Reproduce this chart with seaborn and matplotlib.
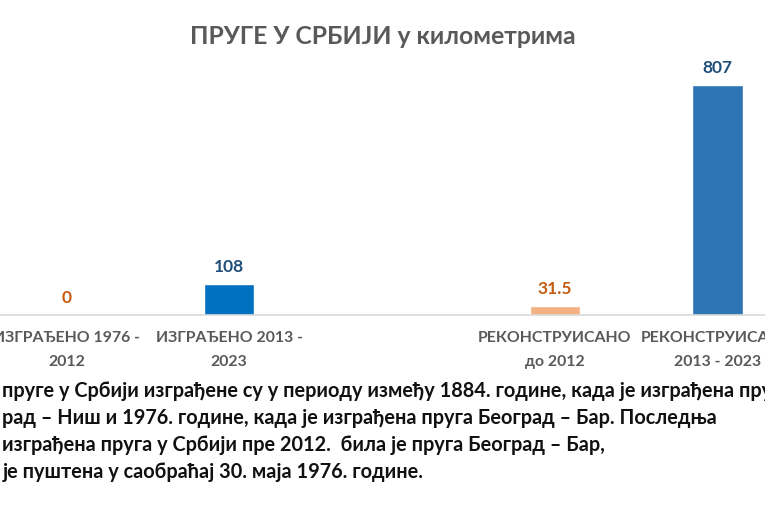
import numpy as np
import pandas as pd
import matplotlib.pyplot as plt
import seaborn as sns

# Data (km); the middle slot is an empty gap in the original
categories = ["ИЗГРАЂЕНО 1976 -\n2012", "ИЗГРАЂЕНО 2013 -\n2023", " ",
              "РЕКОНСТРУИСАНО\nдо 2012", "РЕКОНСТРУИСАНО\n2013 - 2023"]
km = [0, 108, np.nan, 31.5, 807]
value_labels = ["0", "108", "", "31.5", "807"]
bar_colors = ["#F4B183", "#0070C0", "#FFFFFF", "#F4B183", "#2E75B6"]
label_colors = ["#C55A11", "#1F4E79", "#FFFFFF", "#C55A11", "#1F4E79"]

note = ("пруге у Србији изграђене су у периоду између 1884. године, када је изграђена пруга\n"
        "рад – Ниш и 1976. године, када је изграђена пруга Београд – Бар. Последња\n"
        "изграђена пруга у Србији пре 2012.  била је пруга Београд – Бар,\n"
        "је пуштена у саобраћај 30. маја 1976. године.")

df = pd.DataFrame({"cat": categories, "km": km})

sns.set_theme(style="white")
plt.rcParams["font.family"] = ["Lato", "DejaVu Sans"]

fig = plt.figure(figsize=(7.65, 5.1), dpi=100)
ax = fig.add_axes([-15 / 765, 194 / 510, 814 / 765, 285 / 510])

sns.barplot(data=df, x="cat", y="km", hue="cat", order=categories, hue_order=categories,
            palette=bar_colors, legend=False, width=0.31, ax=ax, saturation=1)

# value labels, matched to each bar by its category slot
for cont in ax.containers:
    for bar in cont:
        if bar is None or np.isnan(bar.get_height()):
            continue
        i = int(round(bar.get_x() + bar.get_width() / 2))
        if value_labels[i]:
            ax.bar_label(cont, labels=[value_labels[i]] * len(cont), padding=7,
                         color=label_colors[i], fontsize=12.5, fontweight="bold")
        break

ax.set_ylim(0, 1000)
ax.set_xlim(-0.5, 4.5)
ax.set_xlabel("")
ax.set_ylabel("")
ax.set_yticks([])
for s in ["top", "left", "right"]:
    ax.spines[s].set_visible(False)
ax.spines["bottom"].set_color("#D9D9D9")
ax.spines["bottom"].set_linewidth(1.2)
ax.tick_params(axis="x", length=0, pad=11, labelsize=11.4, labelcolor="#595959")
for t in ax.get_xticklabels():
    t.set_fontweight("bold")
    t.set_linespacing(1.9)

fig.text(0.5, 1 - 36 / 510, "ПРУГЕ У СРБИЈИ у километрима", ha="center", va="center",
         fontsize=17.8, fontweight="bold", color="#595959")

fig.text(0.003, 1 - 381 / 510, note, ha="left", va="top", fontsize=14.3,
         fontweight="bold", color="#111111", linespacing=1.44)

fig.savefig("out.png", dpi=100, facecolor="white")
